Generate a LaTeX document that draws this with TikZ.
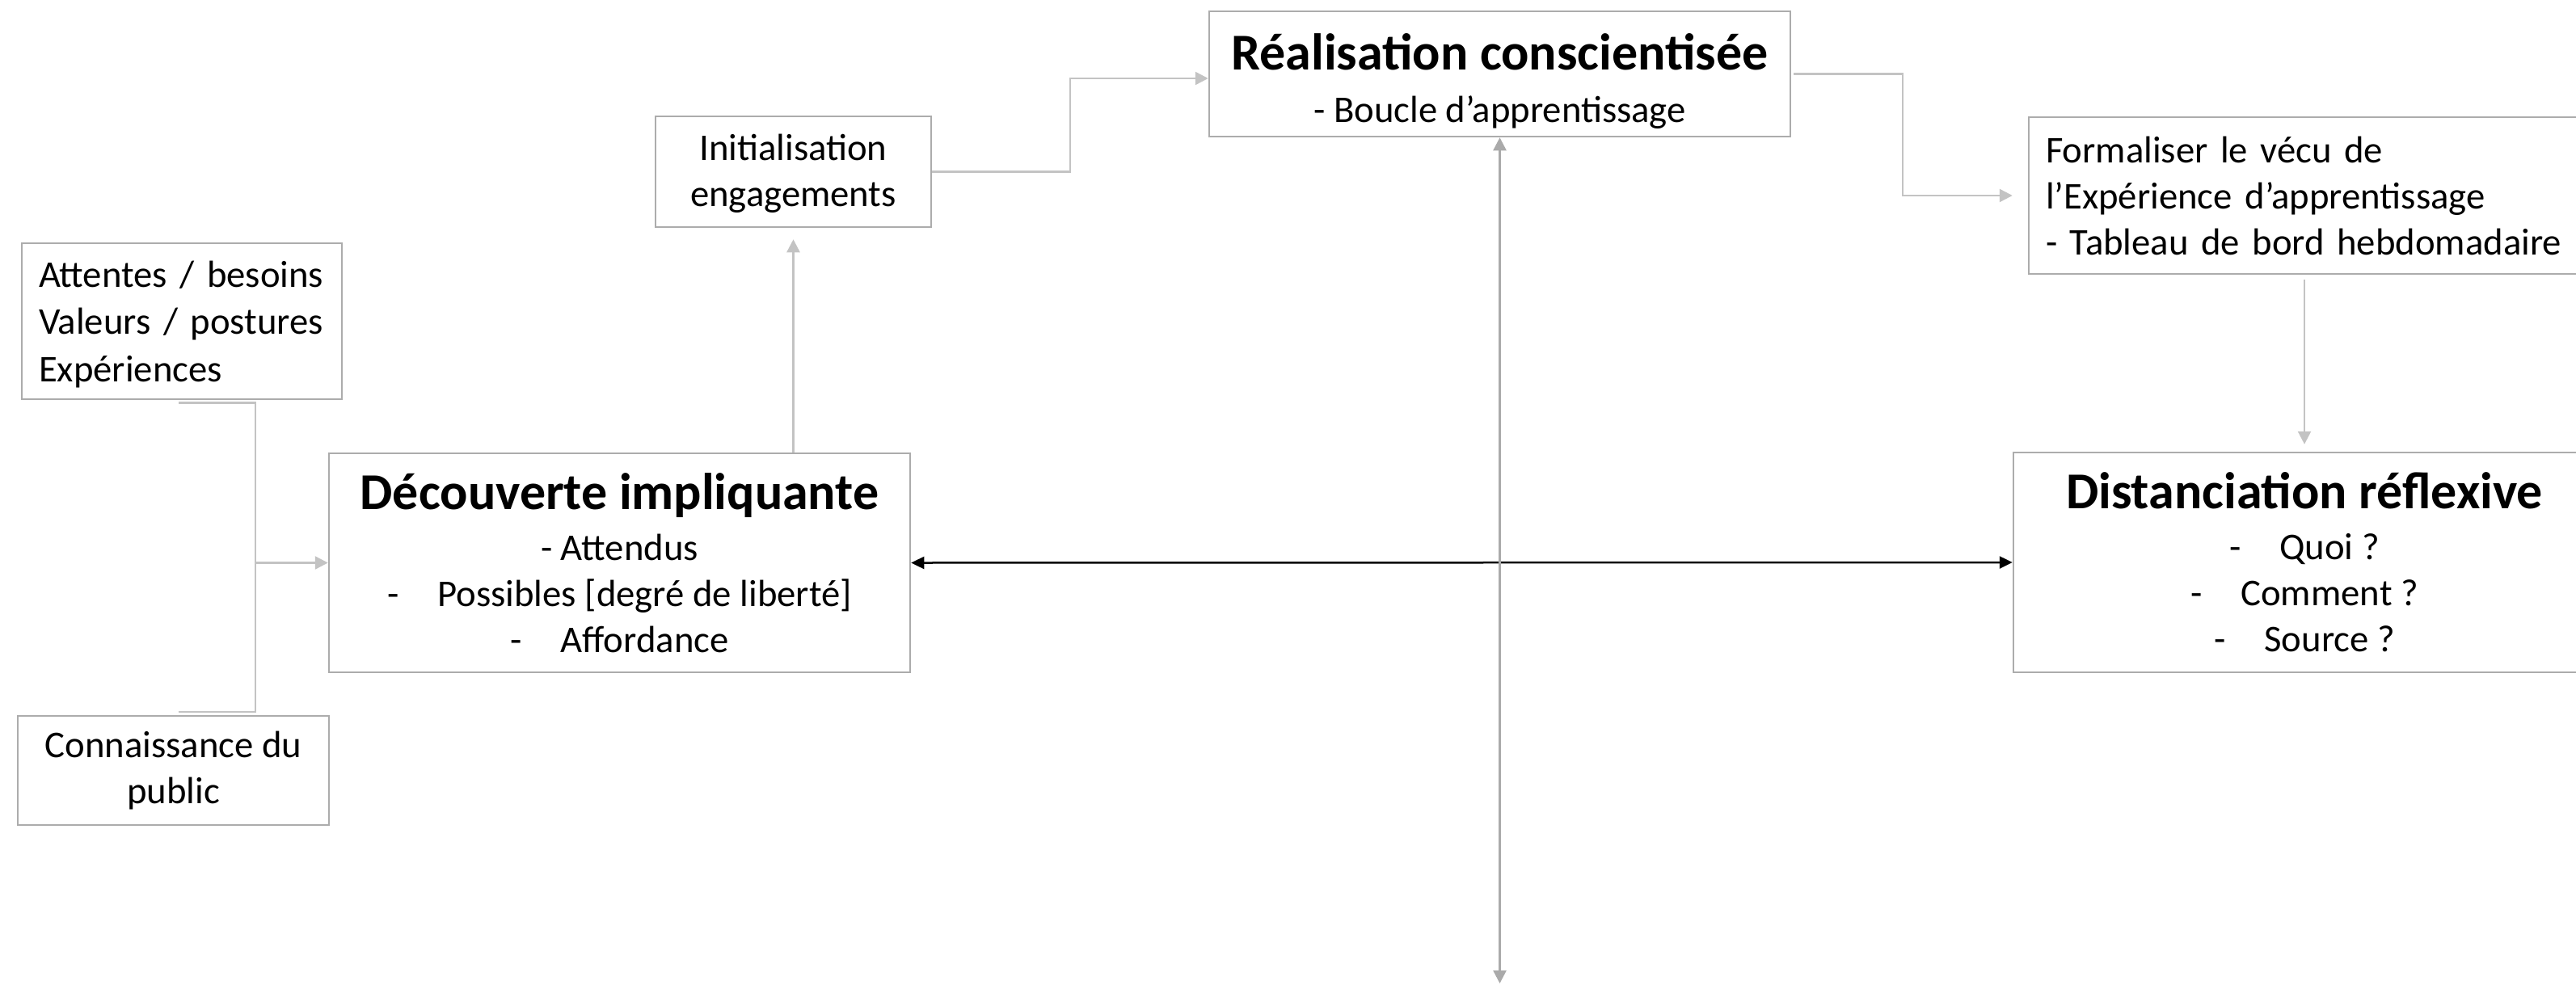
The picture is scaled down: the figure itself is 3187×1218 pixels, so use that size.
\documentclass[tikz,border=0pt]{standalone}
\usepackage{fontspec}
\setmainfont{Carlito}
\usetikzlibrary{arrows.meta}
\definecolor{boxgray}{RGB}{172,172,172}
\definecolor{linegray}{RGB}{195,195,195}
\definecolor{axisgray}{RGB}{170,170,170}
\newcommand{\ttl}[1]{{\fontsize{64}{72}\selectfont\bfseries #1}}
\begin{document}
\begin{tikzpicture}[x=1pt,y=-1pt,
  box/.style={draw=boxgray, line width=2.5pt, rectangle, inner sep=0pt, align=center,
    font=\fontsize{46.7}{57}\selectfont},
  conn/.style={draw=linegray, line width=2.5pt, -{Triangle[length=16pt,width=16pt]}},
  plain/.style={draw=linegray, line width=2.5pt},
  axis/.style={draw=axisgray, line width=2.5pt, {Triangle[length=16pt,width=16pt]}-{Triangle[length=16pt,width=16pt]}},
  dbl/.style={draw=black, line width=2.5pt, {Triangle[length=16pt,width=15pt]}-{Triangle[length=16pt,width=15pt]}}
]
\useasboundingbox (0,0) rectangle (3187,1218);
\clip (0,0) rectangle (3187,1218);

\node[box, minimum width=396pt, minimum height=193pt, text width=354pt, align=left,
      font=\fontsize{46.7}{58.5}\selectfont] (att) at (225,397.5)
  {\rule{0pt}{40pt}Attentes / besoins\\Valeurs / postures\\Expériences};
\node[box, minimum width=385pt, minimum height=135pt] (con) at (214.5,953.5)
  {Connaissance du\\public};
\node[box, minimum width=719pt, minimum height=271pt] (dec) at (766.5,696.5)
  {\ttl{Découverte impliquante}\\[6pt]- Attendus\\-\hspace{48pt}Possibles [degré de liberté]\\-\hspace{48pt}Affordance};
\node[box, minimum width=341pt, minimum height=137pt] (ini) at (981.5,212.5)
  {\rule{0pt}{38pt}Initialisation\\engagements};
\node[box, minimum width=719pt, minimum height=155pt] (rea) at (1855.5,91.5)
  {\rule{0pt}{64pt}\ttl{Réalisation conscientisée}\\[8pt]- Boucle d’apprentissage};
\node[box, minimum width=690pt, minimum height=194pt, text width=648pt, align=left] (for) at (2855,242)
  {Formaliser le vécu de\\l’Expérience d’apprentissage\\- Tableau de bord hebdomadaire};
\node[box, minimum width=720pt, minimum height=272pt] (dis) at (2851,696)
  {\ttl{Distanciation réflexive}\\[6pt]-\hspace{48pt}Quoi ?\\-\hspace{48pt}Comment ?\\-\hspace{48pt}Source ?};

% left bracket connector
\coordinate (j) at (316,696.5);
\draw[plain] ([xshift=-4pt,yshift=-3pt]att.south) -| (j);
\draw[plain] ([xshift=6pt,yshift=4pt]con.north) -| (j);
\draw[conn] (j) -- (dec.west);

% decouverte -> initialisation
\draw[conn] (ini.south |- dec.north) -- ([yshift=-14pt]ini.south);

% initialisation -> realisation
\draw[conn] (ini.east) -| (1324,97) -- ([yshift=-5.5pt]rea.west);

% realisation -> formaliser
\draw[conn] ([xshift=3pt]rea.east) -| (2354,242) -- ([xshift=-19pt]for.west);

% formaliser -> distanciation
\draw[conn] ([yshift=-6pt]for.south -| dis.north) -- ([yshift=9pt]dis.north);

% horizontal black axis
\draw[dbl] (dec.east) -- (dis.west);

% vertical axis
\coordinate (bot) at (1855.5,1217);
\draw[axis] (rea.south) -- (bot);
\end{tikzpicture}
\end{document}
